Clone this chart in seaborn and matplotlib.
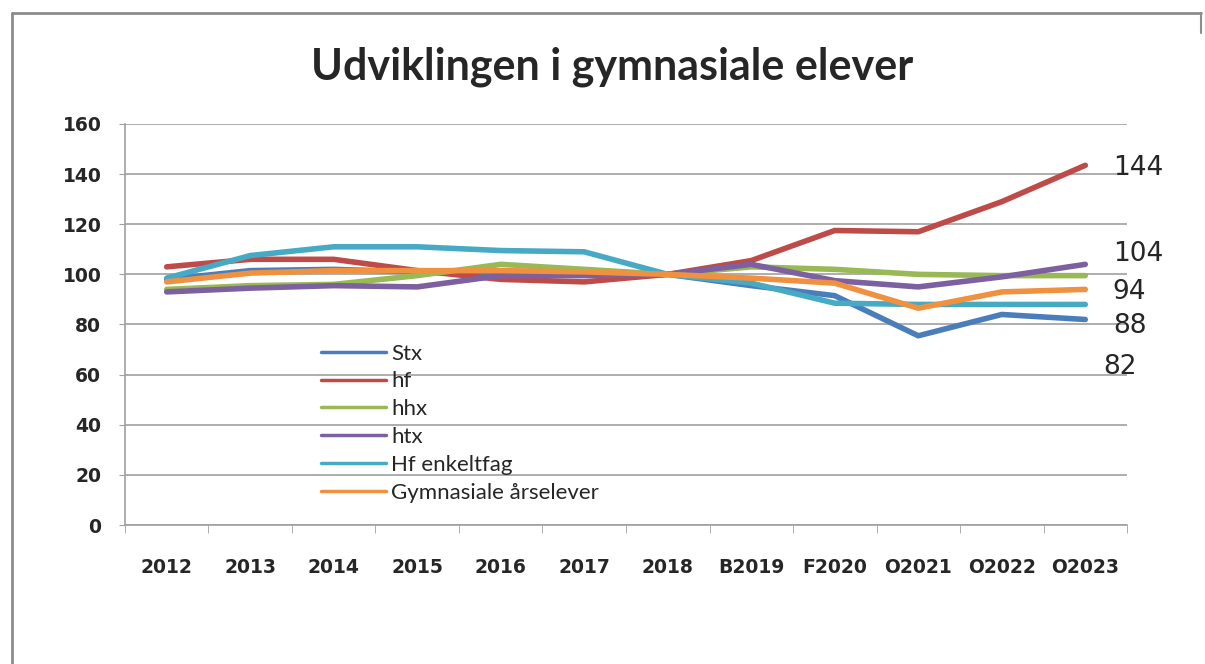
import pandas as pd
import seaborn as sns
from matplotlib import pyplot as plt
from matplotlib.lines import Line2D

periods = ["2012", "2013", "2014", "2015", "2016", "2017", "2018",
           "B2019", "F2020", "O2021", "O2022", "O2023"]

stx = [98, 101.5, 102, 101, 100, 100, 100, 95.5, 91.5, 75.5, 84, 82]
hf = [103, 106, 106, 101.5, 98, 97, 100, 105.5, 117.5, 117, 129, 143.5]
hhx = [94, 95.5, 96, 99.5, 104, 102, 100, 103, 102, 100, 99.5, 99.5]
htx = [93, 94.5, 95.5, 95, 99.5, 99.5, 100, 104, 97.5, 95, 99, 104]
hf_enkeltfag = [98.5, 107.5, 111, 111, 109.5, 109, 100, 96.5, 88.5, 88, 88, 88]
gym_aarselever = [97, 100.5, 101.5, 101.5, 101.5, 101, 100, 98.5, 96.5, 86.5, 93, 94]

series_names = ["Stx", "hf", "hhx", "htx", "Hf enkeltfag", "Gymnasiale årselever"]
series_values = [stx, hf, hhx, htx, hf_enkeltfag, gym_aarselever]
colors = ["#4A7EBB", "#BE4B48", "#98B954", "#7D60A0", "#46AAC5", "#F0913F"]

end_labels = ["144", "104", "94", "88", "82"]
end_label_y = [142.5, 108, 93, 79.5, 63]
end_label_x = [11.33, 11.33, 11.33, 11.33, 11.21]

# long form table for seaborn
rows = []
for name, vals in zip(series_names, series_values):
    for p, v in zip(periods, vals):
        rows.append({"periode": p, "serie": name, "vaerdi": v})
df = pd.DataFrame(rows)

sns.set_style("white")
plt.rcParams["font.family"] = ["Lato", "DejaVu Sans"]

fig = plt.figure(figsize=(12.05, 6.64), dpi=100)
ax = fig.add_axes([0.1037, 0.2093, 0.8316, 0.604])

sns.lineplot(data=df, x="periode", y="vaerdi", hue="serie", hue_order=series_names,
             palette=colors, linewidth=4, sort=False, legend=False, ax=ax,
             solid_capstyle="round")

ax.set_xlim(-0.5, len(periods) - 0.5)
ax.set_ylim(0, 160)
ax.set_yticks(range(0, 161, 20))
ax.set_xticks(range(len(periods)))
ax.set_xticklabels(periods)
ax.set_xticks([i - 0.5 for i in range(len(periods) + 1)], minor=True)
ax.set_xlabel("")
ax.set_ylabel("")

ax.grid(axis="y", color="#A0A0A0", linewidth=1.2)
ax.set_axisbelow(True)
for s in ["top", "right"]:
    ax.spines[s].set_visible(False)
ax.spines["left"].set_color("#A0A0A0")
ax.spines["bottom"].set_color("#A0A0A0")
ax.spines["left"].set_linewidth(1.2)
ax.spines["bottom"].set_linewidth(1.2)

ax.tick_params(axis="x", which="major", length=0, pad=24, labelsize=13.5)
ax.tick_params(axis="x", which="minor", length=6, color="#A0A0A0", direction="out", bottom=True)
ax.tick_params(axis="y", length=4, color="#A0A0A0", direction="out", left=True, pad=13, labelsize=13.5)
for lab in ax.get_xticklabels() + ax.get_yticklabels():
    lab.set_fontweight("bold")
    lab.set_family(["DejaVu Sans"])

for txt, xx, yy in zip(end_labels, end_label_x, end_label_y):
    ax.text(xx, yy, txt, fontsize=19, va="center", ha="left", clip_on=False,
            family=["DejaVu Sans"])

handles = [Line2D([0], [0], color=c, linewidth=2.5) for c in colors]
ax.legend(handles, series_names, loc="upper left", bbox_to_anchor=(0.185, 0.48),
          frameon=False, fontsize=16, handlelength=2.9, handletextpad=0.25,
          labelspacing=0.35, borderpad=0)

fig.suptitle("Udviklingen i gymnasiale elever", x=0.508, y=1 - 67 / 664, va="center",
             fontsize=31, fontweight="bold")

# outer chart border
fig.add_artist(Line2D([0.01, 0.01], [0.0, 0.98], transform=fig.transFigure,
                      color="#8C8C8C", linewidth=2))
fig.add_artist(Line2D([0.01, 0.997], [0.98, 0.98], transform=fig.transFigure,
                      color="#8C8C8C", linewidth=2))
fig.add_artist(Line2D([0.997, 0.997], [0.95, 0.98], transform=fig.transFigure,
                      color="#8C8C8C", linewidth=1.5))

fig.savefig("out.png", dpi=100)
